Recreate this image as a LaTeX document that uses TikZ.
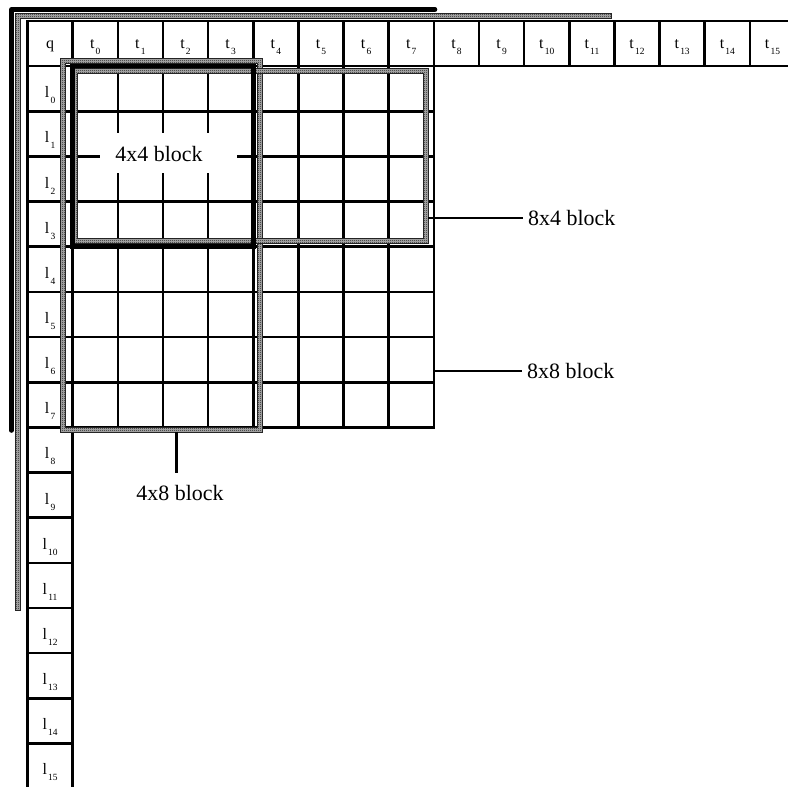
\documentclass[tikz,border=0pt]{standalone}
\usepackage{fontspec}
\setmainfont{Liberation Serif}
\usetikzlibrary{patterns}
\pgfdeclarepatternformonly{checks}{\pgfqpoint{0bp}{0bp}}{\pgfqpoint{2bp}{2bp}}{\pgfqpoint{2bp}{2bp}}{%
  \pgfpathrectangle{\pgfqpoint{0bp}{0bp}}{\pgfqpoint{1bp}{1bp}}%
  \pgfpathrectangle{\pgfqpoint{1bp}{1bp}}{\pgfqpoint{1bp}{1bp}}%
  \pgfusepath{fill}}
\newcommand{\cellsub}[2]{#1\kern1.2bp\raisebox{-6bp}{\fontsize{9.5}{9.5}\selectfont #2}}
\def\hw{2.3}
\newcommand{\hatchrect}[4]{%
  \path[hatchband] (#1-\hw,#2-\hw) rectangle (#3+\hw,#4+\hw) (#1+\hw,#2+\hw) rectangle (#3-\hw,#4-\hw);}
\begin{document}
\begin{tikzpicture}[x=1bp,y=-1bp,
  cell/.style={draw, line width=2.6bp, minimum size=45.15bp, inner sep=0pt, outer sep=0pt},
  hcell/.style={cell, font=\fontsize{16}{16}\selectfont, text height=14bp, text depth=5bp},
  rcell/.style={cell, font=\fontsize{16}{16}\selectfont, text height=18bp, text depth=0bp},
  blocklabel/.style={font=\fontsize{22}{22}\selectfont, inner sep=4bp},
  conn/.style={line width=2.7bp},
  hatchband/.style={even odd rule, fill=black!30, draw=black!85, line width=0.6bp,
    postaction={pattern=checks, pattern color=black!90, even odd rule}},
  bracket/.style={line width=4.5bp, line cap=round, line join=round}]
\useasboundingbox (0,0) rectangle (788,787);

% header row
\foreach \k in {0,...,16} {
  \pgfmathsetmacro{\cx}{27.5+45.15*\k+22.575}
  \ifnum\k=0
    \node[hcell] (h0) at (\cx,43.575) {q};
  \else
    \pgfmathtruncatemacro{\n}{\k-1}
    \node[hcell] (h\k) at (\cx,43.575) {\cellsub{t}{\n}};
  \fi
}
% left column
\foreach \r in {1,...,16} {
  \pgfmathsetmacro{\cy}{21+45.15*\r+22.575}
  \pgfmathtruncatemacro{\n}{\r-1}
  \node[rcell] (r\r) at (50.075,\cy) {\cellsub{l}{\n}};
}
% inner 8x8 grid
\foreach \i in {1,...,8} {
  \foreach \j in {1,...,8} {
    \pgfmathsetmacro{\cx}{27.5+45.15*\i+22.575}
    \pgfmathsetmacro{\cy}{21+45.15*\j+22.575}
    \node[cell] (c-\i-\j) at (\cx,\cy) {};
  }
}

% outer brackets
\coordinate (bk1) at (11.5,430.5);
\coordinate (bk2) at (11.5,9.5);
\coordinate (bk3) at (435,9.5);
\draw[bracket] (bk1) -- (bk2) -- (bk3);
\path[hatchband] (17.5-\hw,610) -- (17.5-\hw,16-\hw) -- (611,16-\hw) -- (611,16+\hw)
  -- (17.5+\hw,16+\hw) -- (17.5+\hw,610) -- cycle;

% hatched blocks
\hatchrect{62.5}{61}{259.5}{429.5}   % 4x8 block
\hatchrect{75}{70.5}{425.5}{241}     % 8x4 block

% 4x4 block
\draw[line width=4.6bp] (c-1-1.north west) rectangle (c-4-4.south east);
\fill[white] (100,133) rectangle (237,173);
\node[blocklabel] (l44) at (159,154.5) {4x4 block};

% labels and connectors
\node[blocklabel, anchor=west, inner xsep=5bp] (l84) at (523,218) {8x4 block};
\coordinate (s84) at (428,218);
\draw[conn] (s84) -- (l84.west);

\node[blocklabel, anchor=west, inner xsep=5bp] (l88) at (522,371) {8x8 block};
\coordinate (s88) at (435.2,371);
\draw[conn] (s88) -- (l88.west);

\node[blocklabel, inner ysep=12bp] (l48) at (180,492.5) {4x8 block};
\coordinate (s48) at (176.5,431.8);
\draw[conn] (s48) -- (s48 |- l48.north);
\end{tikzpicture}
\end{document}
